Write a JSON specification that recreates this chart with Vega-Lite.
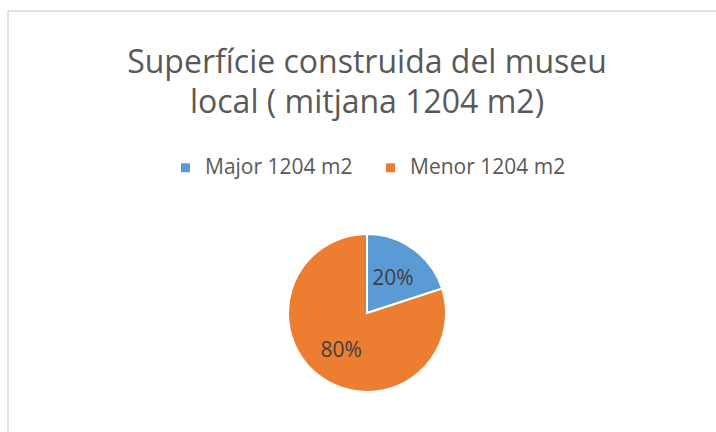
{
  "$schema": "https://vega.github.io/schema/vega-lite/v6.json",
  "width": 718,
  "height": 604,
  "autosize": {"type": "none"},
  "padding": {"left": 8, "top": 11, "right": -10, "bottom": -183},
  "background": "white",
  "view": {"stroke": "#d9d9d9", "strokeWidth": 1.5, "fill": "white"},
  "title": {
    "text": ["Superfície construida del museu", "local ( mitjana 1204 m2)"],
    "anchor": "middle",
    "frame": "group",
    "offset": -109,
    "font": "Open Sans",
    "fontSize": 32,
    "fontWeight": "normal",
    "color": "#595959",
    "lineHeight": 40
  },
  "data": {
    "values": [
      {"categoria": "Major 1204 m2", "proporcio": 0.2},
      {"categoria": "Menor 1204 m2", "proporcio": 0.8}
    ]
  },
  "encoding": {
    "theta": {"field": "proporcio", "type": "quantitative", "stack": true},
    "color": {
      "field": "categoria",
      "type": "nominal",
      "scale": {"domain": ["Major 1204 m2", "Menor 1204 m2"], "range": ["#5B9BD5", "#ED7D31"]},
      "legend": {
        "title": null,
        "orient": "none",
        "direction": "horizontal",
        "legendX": 167,
        "legendY": 146,
        "symbolType": "square",
        "symbolSize": 81,
        "symbolStrokeWidth": 0,
        "labelFont": "Open Sans",
        "labelFontSize": 21,
        "labelColor": "#595959",
        "labelOffset": 9,
        "columnPadding": 27
      }
    }
  },
  "layer": [
    {"mark": {"type": "arc", "outerRadius": 79, "stroke": "white", "strokeWidth": 2}},
    {
      "mark": {"type": "text", "radius": 44, "dy": 2, "font": "Open Sans", "fontSize": 21, "color": "#404040"},
      "encoding": {
        "color": {"value": "#404040"},
        "text": {"field": "proporcio", "type": "quantitative", "format": ".0%"}
      }
    }
  ]
}
